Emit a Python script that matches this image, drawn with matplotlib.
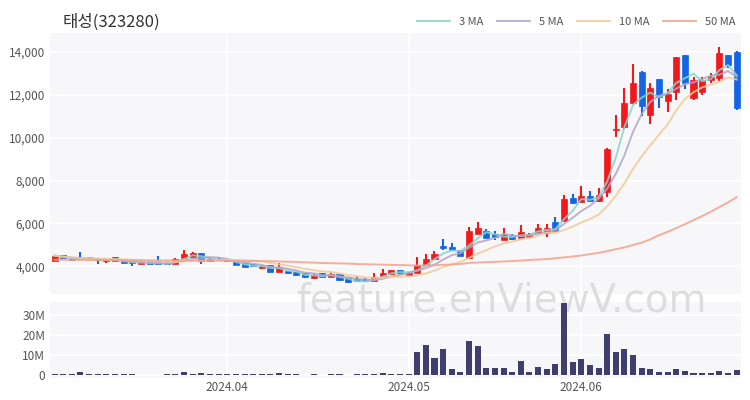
import pandas as pd
import numpy as np
from matplotlib import pyplot as plt
from matplotlib.patches import Rectangle

plt.rcParams['font.family'] = ['Noto Sans CJK KR', 'DejaVu Sans']

#==============+
# Chart data   |
#==============+
title = '태성(323280)'
holidays = ['2024-04-10', '2024-05-01', '2024-05-06', '2024-05-15', '2024-06-06']
dates = [d for d in pd.bdate_range('2024-03-04', '2024-06-28') if d.strftime('%Y-%m-%d') not in holidays]

opens = [4250, 4500, 4400, 4430, 4420, 4350, 4220, 4430, 4280, 4240,
         4110, 4220, 4240, 4210, 4100, 4360, 4440, 4600, 4250, 4340,
         4320, 4220, 4130, 4090, 3900, 4050, 3740, 3770, 3730, 3660,
         3430, 3660, 3500, 3620, 3500, 3420, 3420, 3300, 3510, 3620,
         3810, 3600, 3700, 4060, 4330, 4960, 4900, 4740, 4400, 5500,
         5640, 5480, 5220, 5430, 5330, 5380, 5530, 5540, 6060, 6100,
         7190, 7020, 7270, 7060, 7480, 10360, 10490, 11620, 13060, 11060,
         12720, 11720, 12150, 13860, 11850, 12150, 12700, 12780, 13860, 14020]
highs = [4510, 4530, 4420, 4680, 4450, 4370, 4310, 4440, 4300, 4260,
         4230, 4240, 4470, 4230, 4370, 4750, 4640, 4620, 4360, 4360,
         4340, 4240, 4140, 4100, 4050, 4070, 4170, 3790, 3750, 3680,
         3620, 3680, 3670, 3640, 3510, 3500, 3440, 3660, 3860, 3820,
         3830, 3720, 4430, 4590, 4700, 5290, 5060, 4760, 5840, 6040,
         5720, 5620, 5760, 5480, 5910, 5560, 5950, 5990, 6300, 7320,
         7350, 7760, 7520, 7640, 9500, 11060, 12300, 13440, 13100, 12540,
         12750, 12260, 13790, 13880, 12820, 12850, 13010, 14220, 13880, 14040]
lows = [4230, 4380, 4280, 4300, 4310, 4120, 4170, 4250, 4150, 4010,
        4090, 4090, 4090, 4090, 4090, 4340, 4400, 4090, 4230, 4260,
        4210, 4050, 3960, 3990, 3850, 3720, 3720, 3650, 3560, 3430,
        3410, 3480, 3480, 3330, 3230, 3290, 3290, 3290, 3490, 3600,
        3650, 3580, 3660, 4040, 4320, 4750, 4740, 4480, 4350, 5480,
        5320, 5230, 5200, 5230, 5320, 5350, 5520, 5380, 5640, 6050,
        6900, 7000, 7040, 7000, 7210, 10010, 10390, 11600, 11010, 10640,
        11400, 11220, 11760, 12260, 11780, 11990, 12540, 12660, 13240, 11290]
closes = [4490, 4400, 4300, 4330, 4330, 4280, 4290, 4260, 4160, 4130,
          4210, 4110, 4110, 4110, 4350, 4550, 4620, 4220, 4340, 4280,
          4230, 4070, 3980, 4000, 4020, 3740, 3960, 3670, 3610, 3500,
          3600, 3500, 3650, 3350, 3250, 3300, 3310, 3490, 3700, 3800,
          3670, 3700, 4040, 4330, 4590, 4850, 4760, 4490, 5630, 5790,
          5330, 5350, 5450, 5270, 5600, 5520, 5760, 5790, 5650, 7150,
          6950, 7300, 7050, 7310, 9490, 10430, 11600, 12560, 11460, 12300,
          11900, 12040, 13750, 12540, 12690, 12690, 12820, 13970, 13390, 11380]
volumes_m = [0.5, 0.4, 0.4, 1.7, 0.4, 0.4, 0.3, 0.3, 0.3, 0.3,
             0.1, 0.1, 0.1, 0.5, 0.3, 1.7, 0.6, 1.2, 0.4, 0.3,
             0.3, 0.3, 0.3, 0.3, 0.3, 0.4, 1.2, 0.3, 0.3, 0.2,
             0.3, 0.1, 0.3, 0.3, 0.2, 0.3, 0.5, 0.4, 0.8, 0.4,
             0.3, 0.3, 11.3, 15.0, 8.3, 12.8, 3.0, 1.7, 17.2, 14.7,
             3.3, 3.7, 3.7, 1.7, 7.0, 1.7, 4.0, 3.0, 5.3, 35.8,
             6.3, 7.8, 5.0, 3.3, 20.3, 11.7, 13.0, 10.0, 3.3, 3.0,
             1.3, 1.3, 3.0, 2.0, 1.0, 1.0, 1.0, 2.0, 1.0, 2.5]
ma50 = [4300, 4300, 4295, 4295, 4290, 4290, 4285, 4285, 4280, 4280,
        4275, 4275, 4270, 4270, 4270, 4265, 4265, 4260, 4260, 4255,
        4250, 4250, 4245, 4240, 4235, 4230, 4220, 4210, 4195, 4180,
        4165, 4150, 4140, 4130, 4120, 4100, 4090, 4080, 4070, 4060,
        4050, 4040, 4030, 4035, 4045, 4060, 4080, 4100, 4150, 4170,
        4185, 4200, 4220, 4240, 4260, 4290, 4310, 4330, 4370, 4410,
        4450, 4500, 4560, 4620, 4700, 4790, 4880, 4990, 5100, 5250,
        5450, 5600, 5780, 5960, 6150, 6340, 6540, 6760, 6980, 7220]

price_ticks = [4000, 6000, 8000, 10000, 12000, 14000]
vol_ticks = [0, 10, 20, 30]

red = '#f0191e'
blue = '#1464e6'
ma_colors = {'3 MA': '#86d6cb', '5 MA': '#b3a5c9', '10 MA': '#f2cb96', '50 MA': '#f5a18c'}
bg = '#f7f7f9'

#==================+
# Moving averages  |
#==================+
closeSeries = pd.Series(closes)
ma3 = closeSeries.rolling(3, min_periods=1).mean()
ma5 = closeSeries.rolling(5, min_periods=1).mean()
ma10 = closeSeries.rolling(10, min_periods=1).mean()

x = np.arange(len(dates))
monthStarts = [i for i in range(1, len(dates)) if dates[i].month != dates[i - 1].month]

#================+
# Graph Plotting |
#================+
fig = plt.figure(figsize=(7.5, 4), dpi=100)
ax = fig.add_axes([0.067, 0.265, 0.921, 0.653])
axv = fig.add_axes([0.067, 0.055, 0.921, 0.19], sharex=ax)

for a in (ax, axv):
    a.set_facecolor(bg)
    for s in a.spines.values():
        s.set_visible(False)
    a.tick_params(length=0, colors='#555555', labelsize=8.5)
    a.grid(True, axis='y', color='white', linewidth=1.2)
    a.set_axisbelow(True)
    for m in monthStarts:
        a.axvline(m, color='white', linewidth=1.2, zorder=0)

# candles
bodyWidth = 0.7
for i in x:
    o, h, l, c = opens[i], highs[i], lows[i], closes[i]
    col = red if c >= o else blue
    ax.vlines(i, l, h, color=col, linewidth=1.5, zorder=3)
    ax.add_patch(Rectangle((i - bodyWidth / 2, min(o, c)), bodyWidth, max(abs(c - o), 25),
                           facecolor=col, edgecolor=col, linewidth=0.5, zorder=4))

# moving average lines
ax.plot(x, ma3, color=ma_colors['3 MA'], linewidth=1.4, alpha=0.85, label='3 MA', zorder=5)
ax.plot(x, ma5, color=ma_colors['5 MA'], linewidth=1.4, alpha=0.85, label='5 MA', zorder=5)
ax.plot(x, ma10, color=ma_colors['10 MA'], linewidth=1.4, alpha=0.85, label='10 MA', zorder=5)
ax.plot(x, ma50, color=ma_colors['50 MA'], linewidth=1.4, alpha=0.85, label='50 MA', zorder=5)

ax.set_xlim(-0.5, len(dates) - 0.5)
ax.set_ylim(2700, 14900)
ax.set_yticks(price_ticks)
ax.set_yticklabels([f'{v:,}' for v in price_ticks])
ax.tick_params(axis='x', labelbottom=False)

# volume
axv.bar(x, volumes_m, width=0.7, color='#3f3f6e', zorder=3)
axv.set_ylim(-1.5, 36.5)
axv.set_yticks(vol_ticks)
axv.set_yticklabels(['0' if v == 0 else f'{v}M' for v in vol_ticks])
axv.set_xticks(monthStarts)
axv.set_xticklabels([dates[i].strftime('%Y.%m') for i in monthStarts])
axv.tick_params(axis='x', pad=2)

fig.text(0.083, 0.945, title, fontsize=12, color='#333333', ha='left', va='center')
ax.legend(loc='lower right', bbox_to_anchor=(1.0, 1.0), ncol=4, frameon=False,
          fontsize=8, handlelength=3, columnspacing=1.2, labelcolor='#555555',
          borderaxespad=0.1)

# watermark sits behind the volume bars
axv.text(0.668, 0.25, 'feature.enViewV.com', transform=fig.transFigure, fontsize=28,
         color='#d9d9d9', alpha=0.85, ha='center', va='center', family='DejaVu Sans',
         fontweight='medium', zorder=1, clip_on=False)

plt.savefig('out.png', dpi=100)
